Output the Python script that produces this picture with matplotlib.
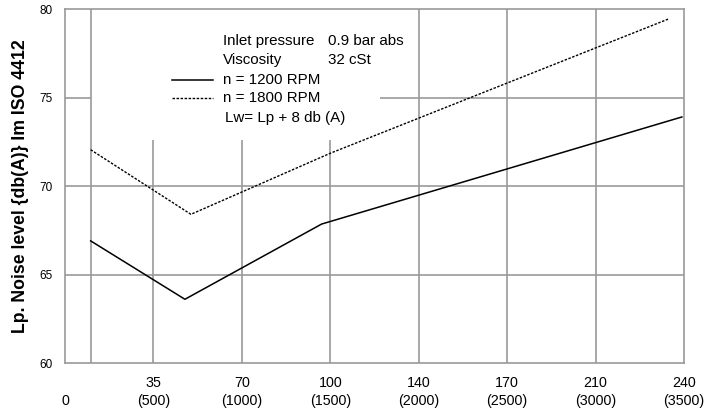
import matplotlib
matplotlib.use('Agg')
import matplotlib.pyplot as plt

plt.rcParams['font.family'] = ['Liberation Sans', 'DejaVu Sans']

# data (x in RPM units of the lower tick row)
rpm_1200 = [145, 678, 1451, 3488]
lp_1200 = [66.9, 63.6, 67.85, 73.9]
rpm_1800 = [145, 712, 1500, 3416]
lp_1800 = [72.05, 68.4, 71.85, 79.45]

x_ticks = [0, 500, 1000, 1500, 2000, 2500, 3000, 3500]
x_labels = ['\n0', '35\n(500)', '70\n(1000)', '100\n(1500)', '140\n(2000)',
            '170\n(2500)', '210\n(3000)', '240\n(3500)']
y_ticks = [60, 65, 70, 75, 80]

grid_col = '#9a9a9a'

fig = plt.figure(figsize=(7.23, 4.15), dpi=100)
ax = fig.add_axes([65 / 723, 52 / 415, 619 / 723, 354 / 415])
ax.set_xlim(0, 3500)
ax.set_ylim(60, 80)

# grid, with a gap where the legend text sits
gap_x = 1780
gap_y = 72.6
ax.vlines(145, 60, 80, color=grid_col, lw=1.2, zorder=1)
for x in x_ticks[1:-1]:
    top = gap_y if x < gap_x else 80
    ax.vlines(x, 60, top, color=grid_col, lw=1.2, zorder=1)
for y in y_ticks[1:-1]:
    if y == 75:
        ax.hlines(y, 0, 145, color=grid_col, lw=1.2, zorder=1)
        ax.hlines(y, gap_x, 3500, color=grid_col, lw=1.2, zorder=1)
    else:
        ax.hlines(y, 0, 3500, color=grid_col, lw=1.2, zorder=1)

for s in ax.spines.values():
    s.set_color(grid_col)
    s.set_linewidth(1.2)

ax.plot(rpm_1200, lp_1200, color='black', lw=1.1, zorder=3)
ax.plot(rpm_1800, lp_1800, color='black', lw=1.0, ls=(0, (1.8, 1.1)), zorder=3)

ax.set_xticks(x_ticks)
ax.set_xticklabels(x_labels, fontsize=10.3, linespacing=1.45)
ax.set_yticks(y_ticks)
ax.set_yticklabels([str(v) for v in y_ticks], fontsize=8.5)
ax.tick_params(axis='both', length=0)
ax.tick_params(axis='x', pad=9)
ax.tick_params(axis='y', pad=9)

ax.set_ylabel('Lp. Noise level {db(A)} Im ISO 4412', fontsize=12.7, fontweight='bold')
ax.yaxis.set_label_coords((29.5 - 65) / 619, 0.5)

# legend block
tx = 895
fs = 10.9
ax.text(tx, 78.2, 'Inlet pressure', fontsize=fs, va='center')
ax.text(1485, 78.2, '0.9 bar abs', fontsize=fs, va='center')
ax.text(tx, 77.1, 'Viscosity', fontsize=fs, va='center')
ax.text(1485, 77.1, '32 cSt', fontsize=fs, va='center')
ax.text(tx, 75.97, 'n = 1200 RPM', fontsize=fs, va='center')
ax.text(tx, 74.95, 'n = 1800 RPM', fontsize=fs, va='center')
ax.text(905, 73.85, 'Lw= Lp + 8 db (A)', fontsize=fs, va='center')
ax.plot([607, 838], [76.0, 76.0], color='black', lw=1.1)
ax.plot([607, 838], [75.0, 75.0], color='black', lw=1.0, ls=(0, (1.8, 1.1)))

fig.savefig('out.png', dpi=100)
